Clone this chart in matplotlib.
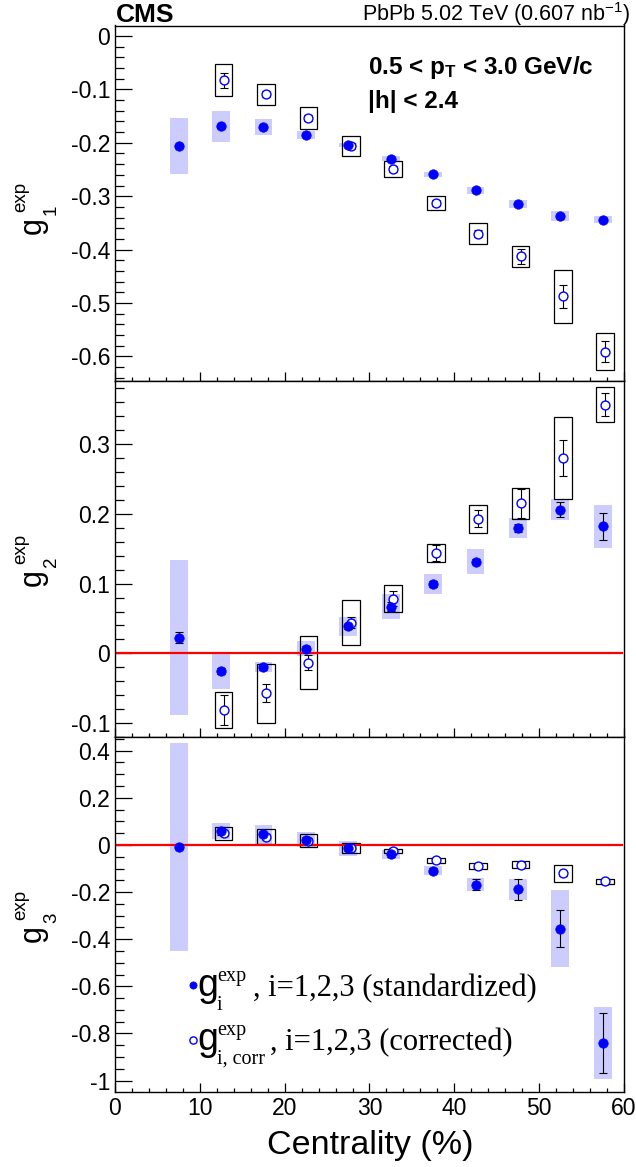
import matplotlib
matplotlib.use("Agg")
import matplotlib.pyplot as plt
from matplotlib.ticker import MultipleLocator, FuncFormatter
from matplotlib.lines import Line2D
import numpy as np

plt.rcParams['font.family'] = ['Liberation Sans', 'DejaVu Sans']
plt.rcParams['axes.unicode_minus'] = False
plt.rcParams['mathtext.fontset'] = 'custom'
plt.rcParams['mathtext.rm'] = 'Liberation Serif'
plt.rcParams['mathtext.sf'] = 'Liberation Sans'
plt.rcParams['mathtext.it'] = 'Liberation Sans:italic'
plt.rcParams['mathtext.bf'] = 'Liberation Sans:bold'

# ---------------- data ----------------
cent_std = [7.5, 12.5, 17.5, 22.5, 27.5, 32.5, 37.5, 42.5, 47.5, 52.5, 57.5]
cent_corr = [12.8, 17.8, 22.8, 27.8, 32.8, 37.8, 42.8, 47.8, 52.8, 57.8]

# g1
g1_std = [-0.206, -0.169, -0.170, -0.185, -0.204, -0.230, -0.259, -0.289, -0.315, -0.337, -0.344]
g1_std_stat = [0.003, 0.003, 0.003, 0.003, 0.003, 0.003, 0.003, 0.003, 0.003, 0.003, 0.003]
g1_std_sys = [0.052, 0.0295, 0.015, 0.0075, 0.0045, 0.0045, 0.005, 0.006, 0.0078, 0.0085, 0.0063]
g1_corr = [-0.083, -0.109, -0.154, -0.206, -0.249, -0.3125, -0.370, -0.4125, -0.4875, -0.591]
g1_corr_stat = [0.014, 0.006, 0.006, 0.005, 0.006, 0.006, 0.007, 0.014, 0.022, 0.019]
g1_corr_sys = [0.030, 0.0195, 0.021, 0.0195, 0.015, 0.0125, 0.019, 0.0195, 0.050, 0.034]

# g2
g2_std = [0.0225, -0.0254, -0.020, 0.0067, 0.0388, 0.067, 0.0995, 0.1316, 0.180, 0.206, 0.182]
g2_std_stat = [0.008, 0.004, 0.004, 0.004, 0.004, 0.006, 0.004, 0.004, 0.006, 0.0105, 0.019]
g2_std_sys = [0.1115, 0.0255, 0.0072, 0.0104, 0.0134, 0.0175, 0.015, 0.018, 0.0147, 0.015, 0.0315]
g2_corr = [-0.0813, -0.0574, -0.0134, 0.044, 0.0785, 0.144, 0.193, 0.215, 0.280, 0.357]
g2_corr_stat = [0.0215, 0.013, 0.011, 0.008, 0.011, 0.011, 0.012, 0.021, 0.026, 0.016]
g2_corr_sys = [0.0265, 0.0426, 0.0378, 0.0325, 0.0195, 0.0135, 0.0205, 0.0225, 0.059, 0.0255]

# g3
g3_std = [-0.008, 0.059, 0.045, 0.023, -0.015, -0.040, -0.109, -0.169, -0.188, -0.355, -0.841]
g3_std_stat = [0.01, 0.018, 0.01, 0.01, 0.01, 0.01, 0.01, 0.024, 0.044, 0.077, 0.126]
g3_std_sys = [0.44, 0.034, 0.039, 0.0315, 0.032, 0.018, 0.0195, 0.0285, 0.0435, 0.163, 0.153]
g3_corr = [0.049, 0.035, 0.018, -0.013, -0.025, -0.066, -0.091, -0.084, -0.120, -0.154]
g3_corr_stat = [0.01, 0.01, 0.01, 0.01, 0.01, 0.01, 0.01, 0.01, 0.01, 0.01]
g3_corr_sys = [0.026, 0.0325, 0.0275, 0.0225, 0.009, 0.010, 0.013, 0.0145, 0.0365, 0.0115]

panels = [
    dict(std=g1_std, std_stat=g1_std_stat, std_sys=g1_std_sys,
         corr=g1_corr, corr_stat=g1_corr_stat, corr_sys=g1_corr_sys,
         ylim=(-0.647, 0.0197), major=0.1, minor=0.02, zero=False, idx='1'),
    dict(std=g2_std, std_stat=g2_std_stat, std_sys=g2_std_sys,
         corr=g2_corr, corr_stat=g2_corr_stat, corr_sys=g2_corr_sys,
         ylim=(-0.120, 0.390), major=0.1, minor=0.02, zero=True, idx='2'),
    dict(std=g3_std, std_stat=g3_std_stat, std_sys=g3_std_sys,
         corr=g3_corr, corr_stat=g3_corr_stat, corr_sys=g3_corr_sys,
         ylim=(-1.047, 0.458), major=0.2, minor=0.05, zero=True, idx='3'),
]

# ---------------- layout ----------------
W, H = 636, 1167
fig = plt.figure(figsize=(W / 100, H / 100), dpi=100)
left = 115 / W
width = (624 - 115) / W
edges = [(25.5, 381.5), (381.5, 737.0), (737.0, 1091.7)]
label_shift = [2.5, -1.0, 0.0]


def ptxt(x, y, s, **kw):
    return fig.text(x / W, 1 - y / H, s, **kw)


box_w = 2.1
fill_col = '#ccccff'
fmt = FuncFormatter(lambda v, p: f'{round(v, 6) + 0:g}')
TICK_FS = 16.5

axes = []
for i, (pan, (yt, yb)) in enumerate(zip(panels, edges)):
    ax = fig.add_axes([left, 1 - yb / H, width, (yb - yt) / H])
    axes.append(ax)
    xs = np.array(cent_std)
    xc = np.array(cent_corr)
    ys = np.array(pan['std'])
    yc = np.array(pan['corr'])
    ss = np.array(pan['std_sys'])
    sc = np.array(pan['corr_sys'])
    ax.bar(xs, 2 * ss, bottom=ys - ss, width=box_w, color=fill_col,
           edgecolor='none', linewidth=0, zorder=1)
    ax.bar(xc, 2 * sc, bottom=yc - sc, width=box_w, fill=False,
           edgecolor='black', linewidth=0.9, zorder=2)
    if pan['zero']:
        ax.axhline(0, color='#ff0000', lw=1.6, zorder=2.5, xmin=0.004, xmax=0.996)
    ax.errorbar(xc, yc, yerr=pan['corr_stat'], fmt='none', ecolor='black',
                elinewidth=0.8, capsize=2.6, capthick=0.8, zorder=3)
    ax.errorbar(xs, ys, yerr=pan['std_stat'], fmt='none', ecolor='black',
                elinewidth=0.8, capsize=2.6, capthick=0.8, zorder=3)
    ax.plot(xc, yc, 'o', ls='none', ms=6.4, mfc='white', mec='#0000ff',
            mew=1.0, zorder=4)
    ax.plot(xs, ys, 'o', ls='none', ms=6.8, mfc='#0000ff', mec='#0000ff',
            mew=0.5, zorder=5)

    ax.set_xlim(0, 60)
    ax.set_ylim(*pan['ylim'])
    ax.xaxis.set_major_locator(MultipleLocator(10))
    ax.xaxis.set_minor_locator(MultipleLocator(2))
    ax.yaxis.set_major_locator(MultipleLocator(pan['major']))
    ax.yaxis.set_minor_locator(MultipleLocator(pan['minor']))
    ax.yaxis.set_major_formatter(fmt)
    ax.xaxis.set_major_formatter(fmt)
    ax.tick_params(axis='y', which='major', direction='in', length=12.5,
                   width=0.9, left=True, right=False, labelsize=TICK_FS, pad=3.5)
    ax.tick_params(axis='y', which='minor', direction='in', length=6.2,
                   width=0.9, left=True, right=False)
    ax.tick_params(axis='x', which='major', direction='in', length=6.2,
                   width=0.9, bottom=True, top=False, labelsize=TICK_FS, pad=3.5,
                   labelbottom=(i == 2))
    ax.tick_params(axis='x', which='minor', direction='in', length=3.2,
                   width=0.9, bottom=True, top=False)
    for sp in ax.spines.values():
        sp.set_linewidth(1.0)

    # rotated y-axis title: g_i^exp built from pieces (ROOT-like stacking)
    m = 0.5 * (yt + yb) + label_shift[i]
    rk = dict(rotation=90, rotation_mode='anchor', ha='left', va='baseline')
    ptxt(40.5, m + 27.5, 'g', fontsize=22, **rk)
    ptxt(25.5, m + 6.0, 'exp', fontsize=13.5, **rk)
    ptxt(56.0, m + 9.0, pan['idx'], fontsize=13.5, **rk)

# x label
ptxt(370, 1154, 'Centrality (%)', ha='center', va='baseline', fontsize=24.5)

# header texts
ptxt(116, 22, 'CMS', ha='left', va='baseline', fontsize=19, fontweight='bold')
ptxt(630, 21, r'PbPb 5.02 TeV (0.607 nb$\mathsf{^{-1}}$)',
     ha='right', va='baseline', fontsize=15.5)
ptxt(368, 74, r'0.5 < $\mathbf{p_{T}}$ < 3.0 GeV/c',
     ha='left', va='baseline', fontsize=17.5, fontweight='bold')
ptxt(368, 108, '|h| < 2.4', ha='left', va='baseline', fontsize=17.5,
     fontweight='bold')

# legend (ROOT-like TLatex entries)
serif = 'Liberation Serif'
leg_rows = [
    dict(y=996, my=985, sub='i', text=', i=1,2,3 (standardized)', tx=253,
         mk=dict(mfc='#0000ff', mec='#0000ff', mew=0.5)),
    dict(y=1050, my=1040, sub='i, corr', text=', i=1,2,3 (corrected)', tx=270,
         mk=dict(mfc='none', mec='#0000ff', mew=1.0)),
]
for r in leg_rows:
    fig.add_artist(Line2D([193 / W], [1 - r['my'] / H], transform=fig.transFigure,
                          marker='o', ls='none', ms=5.2, **r['mk']))
    ptxt(197, r['y'], 'g', fontsize=27, ha='left', va='baseline')
    ptxt(217, r['y'] - 15, 'exp', fontsize=14.5, family=serif, ha='left', va='baseline')
    ptxt(217, r['y'] + 13.5, r['sub'], fontsize=14.5, family=serif, ha='left', va='baseline')
    ptxt(r['tx'], r['y'], r['text'], fontsize=22, family=serif, ha='left', va='baseline')

fig.savefig('out.png', dpi=100)
